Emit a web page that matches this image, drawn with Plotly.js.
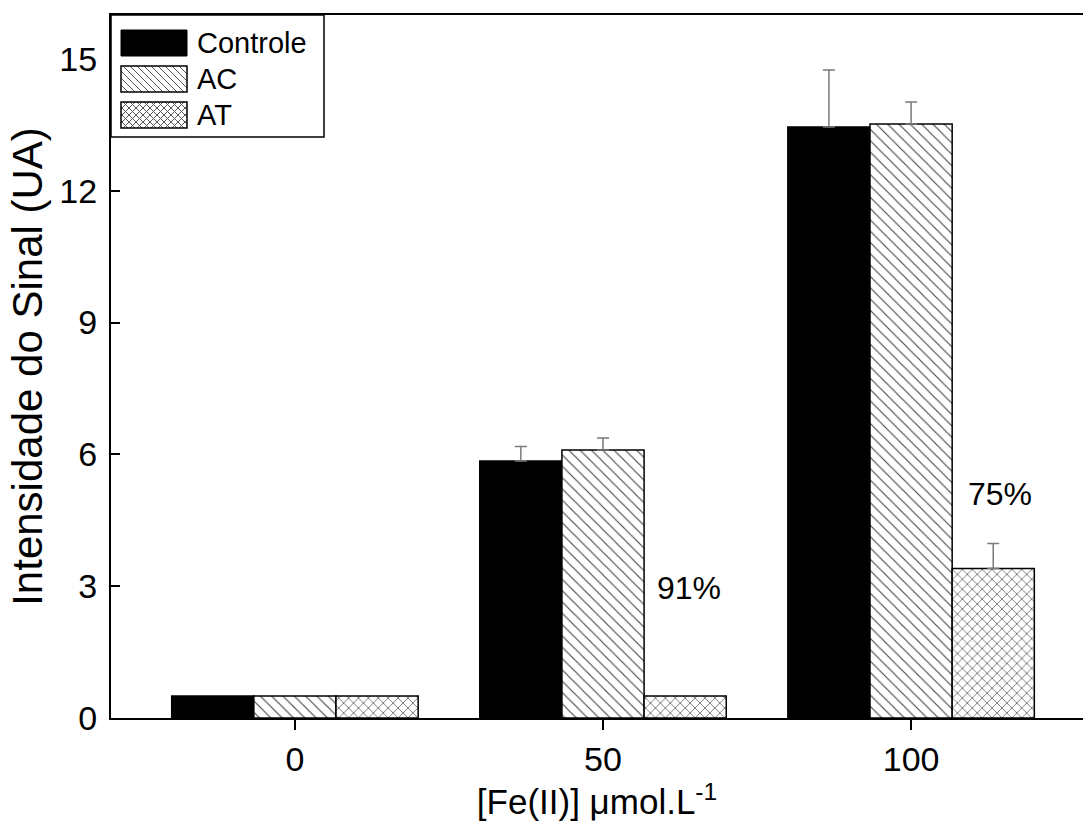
<!DOCTYPE html>
<html>
<head>
<meta charset="utf-8">
<script src="https://cdn.plot.ly/plotly-3.0.1.min.js"></script>
<style>html,body{margin:0;padding:0;background:#fff;}#chart{width:1083px;height:825px;}</style>
</head>
<body>
<div id="chart"></div>
<script>
const categories = ['0', '50', '100'];
const seriesNames = ['Controle', 'AC', 'AT'];
const controle = [0.5, 5.85, 13.45];
const controleErr = [null, 0.33, 1.3];
const ac = [0.5, 6.1, 13.52];
const acErr = [null, 0.27, 0.5];
const at = [0.5, 0.5, 3.4];
const atErr = [null, null, 0.57];
const yTicks = [0, 3, 6, 9, 12, 15];
const labels = [
  {x: 1.28, y: 2.95, text: '91%'},
  {x: 2.29, y: 5.1, text: '75%'}
];

const FONT = 'Liberation Sans, Arial, sans-serif';
const errStyle = (arr) => ({type: 'data', symmetric: false,
  array: arr.map(v => v === null ? NaN : v), arrayminus: arr.map(v => v === null ? NaN : 0),
  color: '#7a7a7a', thickness: 1.5, width: 6});

const traces = [
  {type: 'bar', name: seriesNames[0], x: categories, y: controle, error_y: errStyle(controleErr),
   marker: {color: '#000', line: {color: '#000', width: 1.5}}},
  {type: 'bar', name: seriesNames[1], x: categories, y: ac, error_y: errStyle(acErr),
   marker: {color: '#fff', line: {color: '#000', width: 1.5},
     pattern: {shape: '\\', size: 8, solidity: 0.14, fgcolor: '#444', bgcolor: '#fff'}}},
  {type: 'bar', name: seriesNames[2], x: categories, y: at, error_y: errStyle(atErr),
   marker: {color: '#fff', line: {color: '#000', width: 1.5},
     pattern: {shape: 'x', size: 7, solidity: 0.2, fgcolor: '#555', bgcolor: '#fff'}}}
];

// ---- custom legend (Origin-style large swatches) ----
const L = 111, T = 15, W = 972, H = 703;
const px = v => (v - L) / W;
const py = v => 1 - (v - T) / H;
function hatch(x0, y0, x1, y1, step, dirs) {
  let d = '';
  const h = y1 - y0;
  dirs.forEach(dir => {
    for (let c = x0 - h; c < x1; c += step) {
      const xa = Math.max(x0, c), xb = Math.min(x1, c + h);
      if (xb <= xa) continue;
      let ya, yb;
      if (dir === '\\') { ya = y0 + (xa - c); yb = y0 + (xb - c); }
      else { ya = y1 - (xa - c); yb = y1 - (xb - c); }
      d += `M${px(xa)},${py(ya)}L${px(xb)},${py(yb)}`;
    }
  });
  return d;
}
const sw = {x0: 121, x1: 187, h: 26};
const rows = [30, 66, 102];
const shapes = [
  {type: 'rect', xref: 'paper', yref: 'paper', x0: px(111), x1: px(324), y0: py(137), y1: py(15),
   line: {color: '#000', width: 1.5}, fillcolor: '#fff', layer: 'above'},
  {type: 'rect', xref: 'paper', yref: 'paper', x0: px(sw.x0), x1: px(sw.x1), y0: py(rows[0] + sw.h), y1: py(rows[0]),
   line: {color: '#000', width: 1}, fillcolor: '#000', layer: 'above'},
  {type: 'path', xref: 'paper', yref: 'paper', path: hatch(sw.x0, rows[1], sw.x1, rows[1] + sw.h, 7, ['\\']),
   line: {color: '#555', width: 1}, layer: 'above'},
  {type: 'rect', xref: 'paper', yref: 'paper', x0: px(sw.x0), x1: px(sw.x1), y0: py(rows[1] + sw.h), y1: py(rows[1]),
   line: {color: '#000', width: 1.5}, layer: 'above'},
  {type: 'path', xref: 'paper', yref: 'paper', path: hatch(sw.x0, rows[2], sw.x1, rows[2] + sw.h, 7, ['\\', '/']),
   line: {color: '#555', width: 1}, layer: 'above'},
  {type: 'rect', xref: 'paper', yref: 'paper', x0: px(sw.x0), x1: px(sw.x1), y0: py(rows[2] + sw.h), y1: py(rows[2]),
   line: {color: '#000', width: 1.5}, layer: 'above'}
];
const legendTexts = seriesNames.map((n, i) => ({
  xref: 'paper', yref: 'paper', x: px(195), y: py(rows[i] + sw.h / 2), xanchor: 'left', yanchor: 'middle',
  text: n, showarrow: false, font: {size: 29, family: FONT, color: '#000'}
}));

const layout = {
  width: 1083, height: 825,
  margin: {l: 111, r: 0, t: 15, b: 107},
  paper_bgcolor: '#fff', plot_bgcolor: '#fff',
  font: {family: FONT, color: '#000', size: 34},
  barmode: 'group', bargap: 0.2, bargroupgap: 0,
  showlegend: false,
  xaxis: {type: 'category', range: [-0.597, 2.558], showline: true, linecolor: '#000', linewidth: 2,
    mirror: true, ticks: 'outside', ticklen: 10, tickwidth: 2, tickcolor: '#000',
    showgrid: false, zeroline: false, tickfont: {size: 34},
    title: {text: '[Fe(II)] \u03bcmol.L<sup>-1</sup>', font: {size: 35}, standoff: 8}},
  yaxis: {range: [0, 16], tickvals: yTicks, showline: true, linecolor: '#000', linewidth: 2,
    ticks: 'inside', ticklen: 9, tickwidth: 2, tickcolor: '#000', showgrid: false, zeroline: false,
    tickfont: {size: 34}, ticklabelstandoff: 5,
    title: {text: 'Intensidade do Sinal (UA)', font: {size: 42}, standoff: 4}},
  shapes: shapes,
  annotations: labels.map(l => ({x: l.x, y: l.y, xref: 'x', yref: 'y', text: l.text, showarrow: false,
    font: {size: 32, family: FONT}})).concat(legendTexts)
};

Plotly.newPlot('chart', traces, layout, {displayModeBar: false, staticPlot: true});
</script>
</body>
</html>
